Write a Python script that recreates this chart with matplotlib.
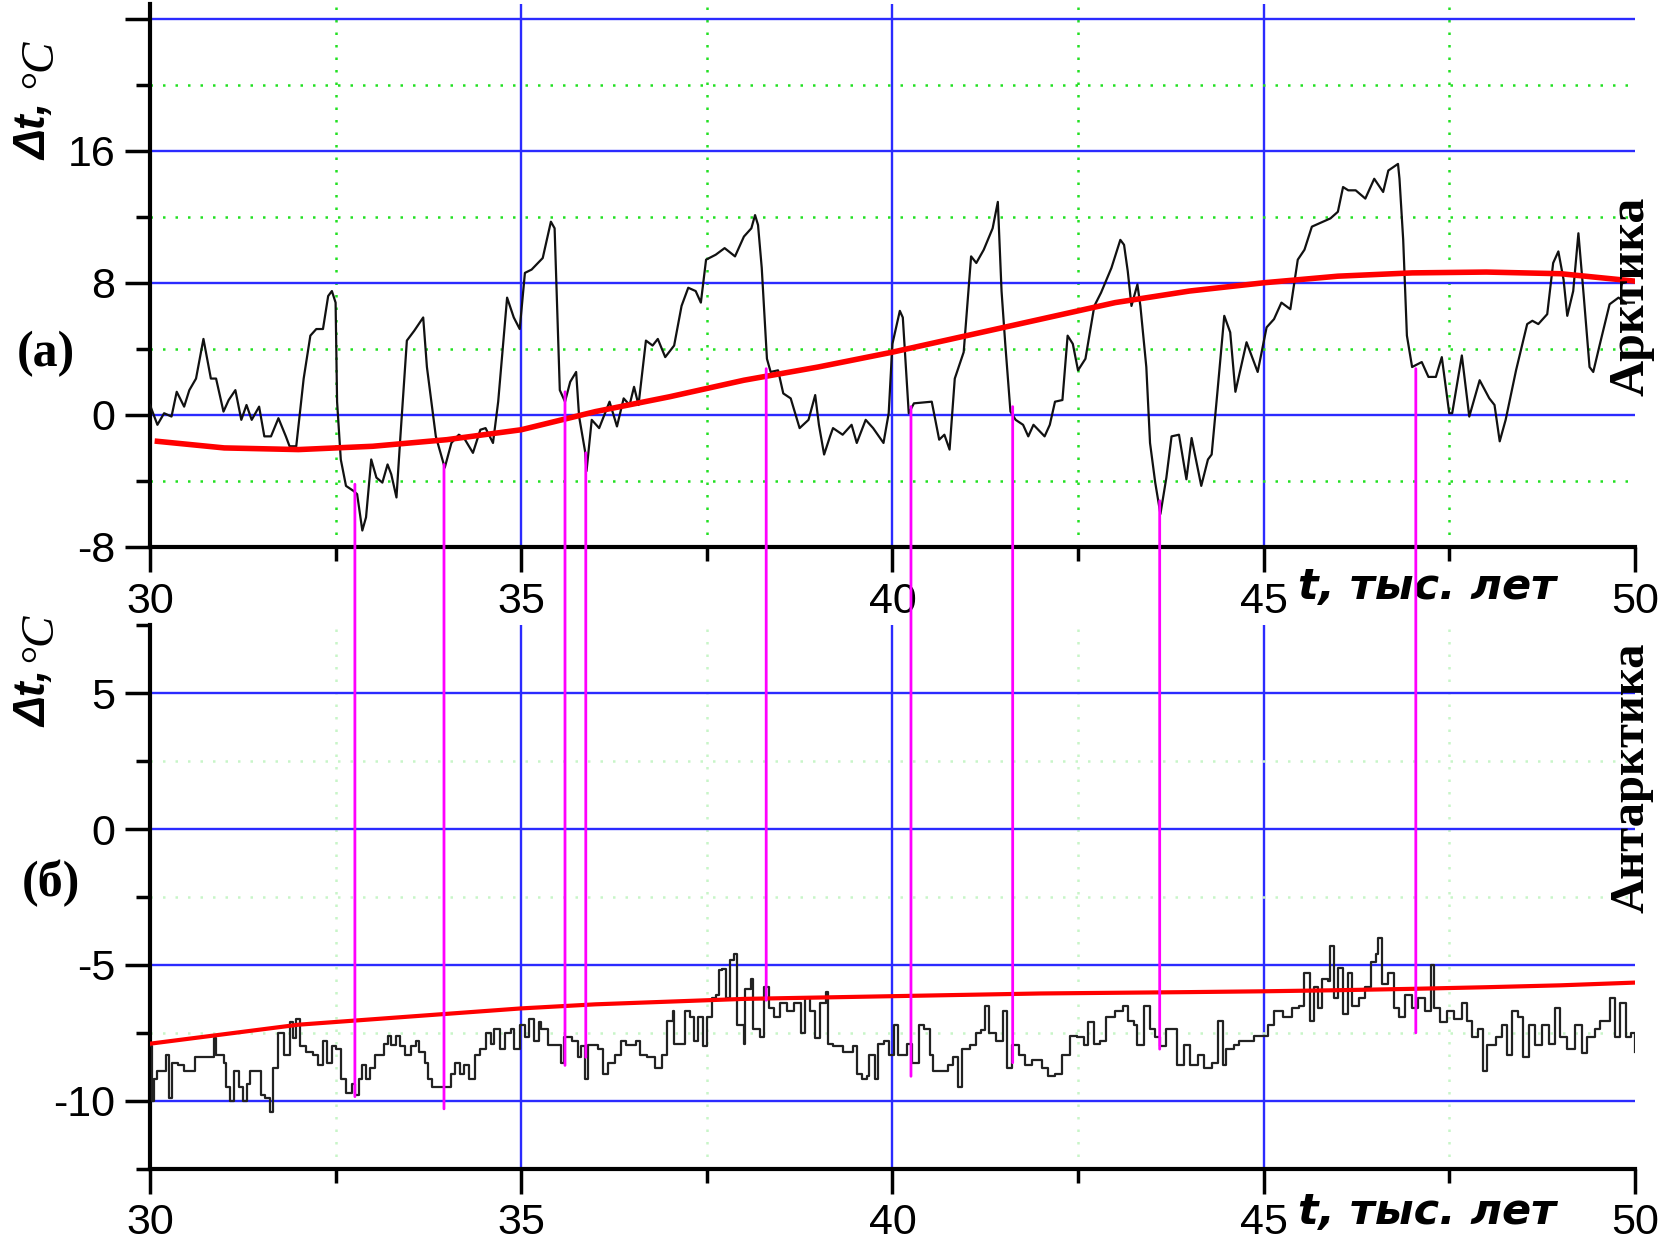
import matplotlib
matplotlib.use("Agg")
import matplotlib.pyplot as plt
from matplotlib.ticker import MultipleLocator, FuncFormatter
from matplotlib.patches import ConnectionPatch

plt.rcParams['axes.unicode_minus'] = False

# Arctic temperature anomaly, thousand years
arctic_t = [30.0, 30.1, 30.19, 30.29, 30.36, 30.46, 30.53, 30.62, 30.72, 30.82, 30.89, 30.99,
            31.06, 31.15, 31.23, 31.30, 31.37, 31.47, 31.54, 31.63, 31.73, 31.83, 31.88, 31.97,
            32.07, 32.16, 32.24, 32.33, 32.40, 32.45, 32.50, 32.52, 32.57, 32.64, 32.74, 32.79,
            32.86, 32.91, 32.98, 33.05, 33.13, 33.20, 33.25, 33.32, 33.37, 33.46, 33.56, 33.68,
            33.73, 33.85, 33.97, 34.06, 34.16, 34.23, 34.35, 34.45, 34.52, 34.62, 34.69, 34.81,
            34.90, 34.98, 35.05, 35.14, 35.29, 35.40, 35.45, 35.52, 35.59, 35.66, 35.74, 35.78,
            35.86, 35.88, 35.95, 36.05, 36.19, 36.29, 36.38, 36.46, 36.52, 36.58, 36.68, 36.77,
            36.84, 36.94, 37.06, 37.16, 37.25, 37.35, 37.42, 37.49, 37.62, 37.74, 37.88, 38.0,
            38.1, 38.15, 38.19, 38.24, 38.31, 38.36, 38.46, 38.53, 38.63, 38.75, 38.87, 38.96,
            39.01, 39.08, 39.16, 39.20, 39.33, 39.45, 39.52, 39.64, 39.74, 39.88, 39.95, 40.0,
            40.10, 40.14, 40.22, 40.29, 40.53, 40.63, 40.70, 40.77, 40.84, 40.96, 41.06, 41.13,
            41.23, 41.35, 41.42, 41.47, 41.52, 41.59, 41.66, 41.76, 41.83, 41.90, 42.05, 42.12,
            42.19, 42.29, 42.36, 42.43, 42.50, 42.60, 42.72, 42.81, 42.95, 43.07, 43.12, 43.17,
            43.22, 43.30, 43.34, 43.42, 43.47, 43.54, 43.61, 43.69, 43.76, 43.86, 43.96, 44.03,
            44.16, 44.25, 44.30, 44.38, 44.47, 44.55, 44.62, 44.77, 44.92, 45.04, 45.14, 45.24,
            45.36, 45.46, 45.55, 45.65, 45.75, 45.90, 46.0, 46.07, 46.14, 46.24, 46.37, 46.49,
            46.61, 46.68, 46.81, 46.83, 46.88, 46.93, 47.0, 47.13, 47.22, 47.32, 47.40, 47.50,
            47.54, 47.67, 47.77, 47.91, 48.04, 48.11, 48.18, 48.26, 48.40, 48.55, 48.62, 48.70,
            48.82, 48.90, 48.97, 49.04, 49.09, 49.17, 49.24, 49.31, 49.39, 49.44, 49.53, 49.66,
            49.78, 49.88, 50.0]
arctic_dt = [0.6, -0.6, 0.1, -0.1, 1.4, 0.5, 1.5, 2.2, 4.6, 2.2, 2.2, 0.2,
             0.9, 1.5, -0.3, 0.6, -0.3, 0.5, -1.3, -1.3, -0.2, -1.3, -1.9, -1.9,
             2.2, 4.8, 5.2, 5.2, 7.2, 7.5, 6.8, 0.8, -2.7, -4.3, -4.6, -4.8,
             -7.0, -6.2, -2.7, -3.8, -4.1, -3.0, -3.6, -5.0, -1.5, 4.5, 5.1, 5.9,
             2.9, -1.3, -3.2, -1.7, -1.2, -1.4, -2.3, -0.9, -0.8, -1.7, 0.8, 7.1,
             5.9, 5.2, 8.6, 8.8, 9.5, 11.7, 11.3, 1.5, 0.8, 2.0, 2.6, -0.1,
             -2.2, -3.4, -0.3, -0.8, 0.8, -0.7, 1.0, 0.6, 1.7, 0.6, 4.5, 4.2,
             4.6, 3.5, 4.2, 6.6, 7.7, 7.5, 6.8, 9.4, 9.7, 10.1, 9.6, 10.8,
             11.3, 12.1, 11.5, 8.9, 3.4, 2.6, 2.7, 1.3, 1.0, -0.8, -0.3, 1.2,
             -0.6, -2.4, -1.3, -0.8, -1.2, -0.6, -1.7, -0.3, -0.8, -1.7, 0.1, 4.3,
             6.3, 5.9, 0.1, 0.7, 0.8, -1.5, -1.2, -2.1, 2.2, 3.8, 9.6, 9.2,
             10.0, 11.3, 12.9, 7.5, 4.3, 0.2, -0.3, -0.6, -1.3, -0.6, -1.3, -0.6,
             0.8, 0.9, 4.8, 4.3, 2.7, 3.4, 6.6, 7.4, 8.9, 10.6, 10.3, 8.7,
             6.6, 7.9, 6.6, 2.9, -1.7, -4.1, -6.0, -3.8, -1.3, -1.2, -3.9, -1.4,
             -4.3, -2.7, -2.4, 1.5, 6.0, 5.0, 1.4, 4.4, 2.6, 5.3, 5.8, 6.8,
             6.4, 9.4, 10.0, 11.4, 11.6, 11.9, 12.3, 13.8, 13.6, 13.6, 13.1, 14.3,
             13.5, 14.8, 15.2, 14.3, 10.6, 4.8, 2.9, 3.2, 2.3, 2.3, 3.5, 0.1,
             0.1, 3.6, -0.1, 2.1, 1.0, 0.6, -1.6, -0.3, 2.7, 5.5, 5.7, 5.5,
             6.1, 9.2, 9.9, 8.2, 6.0, 7.5, 11.0, 7.3, 2.9, 2.6, 4.3, 6.7,
             7.1, 6.8, 6.8]

# Antarctic temperature anomaly (step record)
antarctic_t = [30.0, 30.03, 30.05, 30.1, 30.22, 30.26, 30.3, 30.38, 30.46, 30.6, 30.86, 30.89,
               31.0, 31.03, 31.08, 31.13, 31.2, 31.25, 31.3, 31.35, 31.5, 31.55, 31.61, 31.66,
               31.73, 31.8, 31.88, 31.92, 31.97, 32.02, 32.1, 32.2, 32.26, 32.33, 32.38, 32.45,
               32.5, 32.57, 32.64, 32.72, 32.76, 32.81, 32.86, 32.91, 32.96, 33.03, 33.15, 33.2,
               33.25, 33.32, 33.37, 33.44, 33.51, 33.58, 33.63, 33.7, 33.75, 33.8, 34.06, 34.11,
               34.18, 34.23, 34.3, 34.38, 34.45, 34.52, 34.59, 34.64, 34.71, 34.78, 34.86, 34.9,
               34.98, 35.05, 35.1, 35.17, 35.24, 35.26, 35.36, 35.47, 35.54, 35.57, 35.69, 35.76,
               35.81, 35.86, 35.9, 36.03, 36.1, 36.17, 36.27, 36.34, 36.41, 36.55, 36.6, 36.7,
               36.8, 36.89, 36.96, 37.04, 37.06, 37.16, 37.21, 37.28, 37.33, 37.38, 37.45, 37.5,
               37.57, 37.62, 37.66, 37.71, 37.76, 37.81, 37.86, 37.90, 38.0, 38.02, 38.1, 38.12,
               38.22, 38.27, 38.34, 38.41, 38.48, 38.58, 38.67, 38.77, 38.82, 38.89, 38.96, 39.03,
               39.1, 39.13, 39.2, 39.33, 39.47, 39.52, 39.59, 39.66, 39.69, 39.76, 39.81, 39.88,
               39.95, 40.02, 40.07, 40.19, 40.26, 40.36, 40.43, 40.51, 40.55, 40.75, 40.82, 40.89,
               40.94, 41.04, 41.13, 41.2, 41.25, 41.3, 41.4, 41.49, 41.54, 41.61, 41.71, 41.78,
               41.88, 42.02, 42.1, 42.19, 42.29, 42.39, 42.48, 42.58, 42.63, 42.72, 42.8, 42.88,
               43.0, 43.1, 43.17, 43.25, 43.3, 43.39, 43.47, 43.54, 43.61, 43.69, 43.79, 43.84,
               43.93, 44.01, 44.11, 44.2, 44.3, 44.38, 44.45, 44.5, 44.6, 44.67, 44.87, 45.06,
               45.14, 45.26, 45.38, 45.48, 45.55, 45.63, 45.68, 45.73, 45.78, 45.87, 45.9, 45.95,
               46.0, 46.07, 46.14, 46.19, 46.29, 46.37, 46.44, 46.51, 46.54, 46.59, 46.68, 46.76,
               46.83, 46.91, 47.0, 47.08, 47.18, 47.25, 47.3, 47.37, 47.47, 47.57, 47.67, 47.74,
               47.81, 47.89, 47.96, 48.01, 48.13, 48.21, 48.28, 48.35, 48.43, 48.5, 48.58, 48.65,
               48.75, 48.85, 48.92, 48.99, 49.09, 49.19, 49.29, 49.36, 49.46, 49.53, 49.66, 49.73,
               49.8, 49.88, 49.95, 50.0]
antarctic_dt = [-8.0, -10.0, -9.2, -8.9, -8.3, -9.9, -8.6, -8.7, -8.9, -8.4, -7.7, -8.3,
                -8.6, -9.5, -10.0, -8.9, -9.5, -10.0, -9.4, -8.9, -9.8, -9.9, -10.4, -8.8,
                -7.5, -8.3, -7.1, -7.7, -7.0, -8.0, -8.2, -8.3, -8.7, -7.8, -8.6, -8.0,
                -8.1, -9.2, -9.7, -9.4, -9.8, -9.2, -8.7, -9.2, -8.8, -8.3, -7.9, -7.6,
                -7.95, -7.6, -8.0, -8.3, -8.0, -7.8, -8.2, -8.6, -9.2, -9.5, -9.0, -8.6,
                -9.0, -8.7, -9.2, -8.3, -8.1, -7.5, -7.9, -7.35, -8.1, -7.5, -7.35, -8.1,
                -7.2, -7.65, -7.0, -7.8, -7.1, -7.35, -7.95, -7.95, -8.6, -7.65, -7.8, -8.4,
                -8.0, -9.2, -7.95, -8.1, -9.0, -8.6, -8.3, -7.8, -7.95, -7.8, -8.3, -8.4,
                -8.8, -8.3, -7.05, -6.7, -7.9, -7.9, -6.7, -6.9, -7.8, -6.9, -8.0, -6.9,
                -6.2, -6.1, -5.2, -5.15, -6.2, -4.8, -4.6, -7.2, -7.9, -5.9, -5.5, -7.35,
                -7.65, -5.8, -6.6, -6.9, -6.4, -6.7, -6.4, -7.5, -6.2, -6.7, -7.7, -6.4,
                -6.0, -7.9, -8.0, -8.2, -8.0, -9.0, -9.2, -9.1, -8.3, -9.2, -7.9, -7.8,
                -8.3, -7.2, -8.3, -7.9, -8.6, -7.2, -7.35, -8.3, -8.9, -8.7, -8.4, -9.5,
                -8.1, -7.95, -7.5, -7.4, -6.5, -7.5, -7.8, -6.7, -8.8, -7.95, -8.3, -8.7,
                -8.5, -8.8, -9.1, -9.0, -8.3, -7.6, -7.65, -7.95, -7.1, -7.9, -7.8, -6.9,
                -6.7, -6.5, -7.05, -7.2, -7.95, -6.5, -7.35, -7.65, -8.0, -7.35, -7.35, -8.7,
                -7.95, -8.7, -8.3, -8.8, -8.6, -7.05, -8.7, -8.1, -7.95, -7.8, -7.6, -7.2,
                -6.7, -6.9, -6.6, -6.5, -5.3, -7.05, -5.8, -6.6, -5.5, -5.6, -4.3, -6.2,
                -5.1, -6.8, -5.3, -6.5, -6.2, -5.8, -4.9, -4.6, -4.0, -5.7, -5.3, -6.6,
                -6.9, -6.1, -6.6, -6.2, -6.7, -5.0, -6.6, -7.1, -6.7, -7.0, -6.4, -7.05,
                -7.65, -7.35, -8.9, -7.95, -7.65, -7.2, -8.3, -6.7, -6.9, -8.4, -7.2, -7.95,
                -7.2, -7.9, -6.6, -7.65, -8.1, -7.2, -8.25, -7.65, -7.35, -7.05, -6.2, -7.65,
                -6.4, -7.65, -7.5, -8.2]

# smoothed trends
trend_a_t = [30.1, 31, 32, 33, 34, 35, 36, 37, 38, 39, 40, 41, 42, 43, 44, 45, 46, 47, 48, 49, 50]
trend_a_dt = [-1.6, -2.0, -2.1, -1.9, -1.5, -0.9, 0.2, 1.1, 2.1, 2.9, 3.8, 4.8, 5.8, 6.8, 7.5,
              8.0, 8.4, 8.6, 8.65, 8.55, 8.1]
trend_b_t = [30, 31, 32, 33, 34, 35, 36, 37, 38, 39, 40, 42, 44, 45, 46, 47, 48, 49, 50]
trend_b_dt = [-7.9, -7.55, -7.2, -7.0, -6.8, -6.6, -6.45, -6.35, -6.25, -6.2, -6.15, -6.05, -6.0,
              -5.97, -5.93, -5.88, -5.82, -5.75, -5.65]

# events linking the two records
event_t = [32.76, 33.96, 35.59, 35.87, 38.3, 40.25, 41.62, 43.6, 47.05]
event_arctic = [-4.2, -3.0, 1.4, -2.3, 2.8, 0.5, 0.5, -5.2, 2.8]
event_antarctic = [-9.85, -10.3, -8.7, -8.4, -6.3, -9.1, -8.6, -8.1, -7.5]

BLUE = '#2b2bff'
GREEN = '#22e022'

fig = plt.figure(figsize=(16.74, 12.46), dpi=100)
ax1 = fig.add_axes([0.0896, 0.561, 0.887, 0.436])
ax2 = fig.add_axes([0.0896, 0.0621, 0.887, 0.4359])


def style_axis(ax, ymajor_vals, yminor_vals, ymajor, yminor, green):
    ax.set_xlim(30, 50)
    ax.xaxis.set_major_locator(MultipleLocator(5))
    ax.xaxis.set_minor_locator(MultipleLocator(2.5))
    ax.yaxis.set_major_locator(MultipleLocator(ymajor))
    ax.yaxis.set_minor_locator(MultipleLocator(yminor))
    # grid drawn by hand: no vertical blue line on the frame edges
    for x in [35, 40, 45]:
        ax.axvline(x, color=BLUE, lw=1.7, zorder=1)
    for x in [32.5, 37.5, 42.5, 47.5]:
        ax.axvline(x, color=green, lw=1.8, ls=(0, (1, 4)), zorder=1)
    for y in ymajor_vals:
        ax.axhline(y, color=BLUE, lw=1.7, zorder=1)
    for y in yminor_vals:
        ax.axhline(y, color=green, lw=1.8, ls=(0, (1, 4)), zorder=1)
    for s in ['top', 'right']:
        ax.spines[s].set_visible(False)
    for s in ['left', 'bottom']:
        ax.spines[s].set_linewidth(3)
    ax.tick_params(which='major', length=18, width=2.5, labelsize=31, pad=7)
    ax.tick_params(which='minor', length=10, width=2.5)


# (a) Arctic
ax1.set_ylim(-8, 24.9)
style_axis(ax1, [0, 8, 16, 24], [-4, 4, 12, 20], 8, 4, GREEN)
ax1.yaxis.set_major_formatter(FuncFormatter(lambda v, p: '' if v > 20 else f'{v:g}'))
ax1.plot(arctic_t, arctic_dt, color='#111111', lw=1.6, zorder=3)
ax1.plot(trend_a_t, trend_a_dt, color='#ff0000', lw=4, zorder=4)

# (б) Antarctic
ax2.set_ylim(-12.5, 7.5)
style_axis(ax2, [-10, -5, 0, 5], [-7.5, -2.5, 2.5], 5, 2.5, '#c8f5c8')
ax2.yaxis.set_major_formatter(FuncFormatter(lambda v, p: f'{v:g}'))
ax2.plot(antarctic_t, antarctic_dt, color='#222222', lw=1.6, drawstyle='steps-post', zorder=3)
ax2.plot(trend_b_t, trend_b_dt, color='#ff0000', lw=3, zorder=4)

for ax in (ax1, ax2):
    for lab in ax.get_xticklabels() + ax.get_yticklabels():
        lab.set_family('Liberation Sans')

# magenta connectors between the records
for t, ya, yb in zip(event_t, event_arctic, event_antarctic):
    con = ConnectionPatch(xyA=(t, ya), coordsA=ax1.transData,
                          xyB=(t, yb), coordsB=ax2.transData,
                          color='#ff00ff', lw=2, zorder=10)
    fig.add_artist(con)

# axis labels
for ybot, ytop in [(1 - 160 / 1246, 1 - 38 / 1246), (1 - 727 / 1246, 1 - 612 / 1246)]:
    fig.text(0.021, ybot, 'Δt,', rotation=90, ha='center', va='bottom',
             fontsize=32, fontweight='bold', fontstyle='italic', family='Liberation Sans')
    fig.text(0.023, ytop, '°C', rotation=90, ha='center', va='top',
             fontsize=34, fontstyle='italic', family='Liberation Serif')

fig.text(46 / 1674, 1 - 354 / 1246, '(a)', ha='center', va='center',
         fontsize=36, fontweight='bold', family='Liberation Serif')
fig.text(51 / 1674, 1 - 883 / 1246, '(б)', ha='center', va='center',
         fontsize=36, fontweight='bold', family='Liberation Serif')

fig.text(1632 / 1674, 1 - 296 / 1246, 'Арктика', rotation=90, ha='center', va='center',
         fontsize=36, fontweight='bold', family='Liberation Serif')
fig.text(1632 / 1674, 1 - 778 / 1246, 'Антарктика', rotation=90, ha='center', va='center',
         fontsize=35, fontweight='bold', family='Liberation Serif')

for yc in [1 - 587 / 1246, 1 - 1212 / 1246]:
    fig.text(1427 / 1674, yc, 't, тыс. лет', ha='center', va='center',
             fontsize=31, fontweight='bold', fontstyle='italic', family='DejaVu Sans')

fig.savefig('out.png', dpi=100)
